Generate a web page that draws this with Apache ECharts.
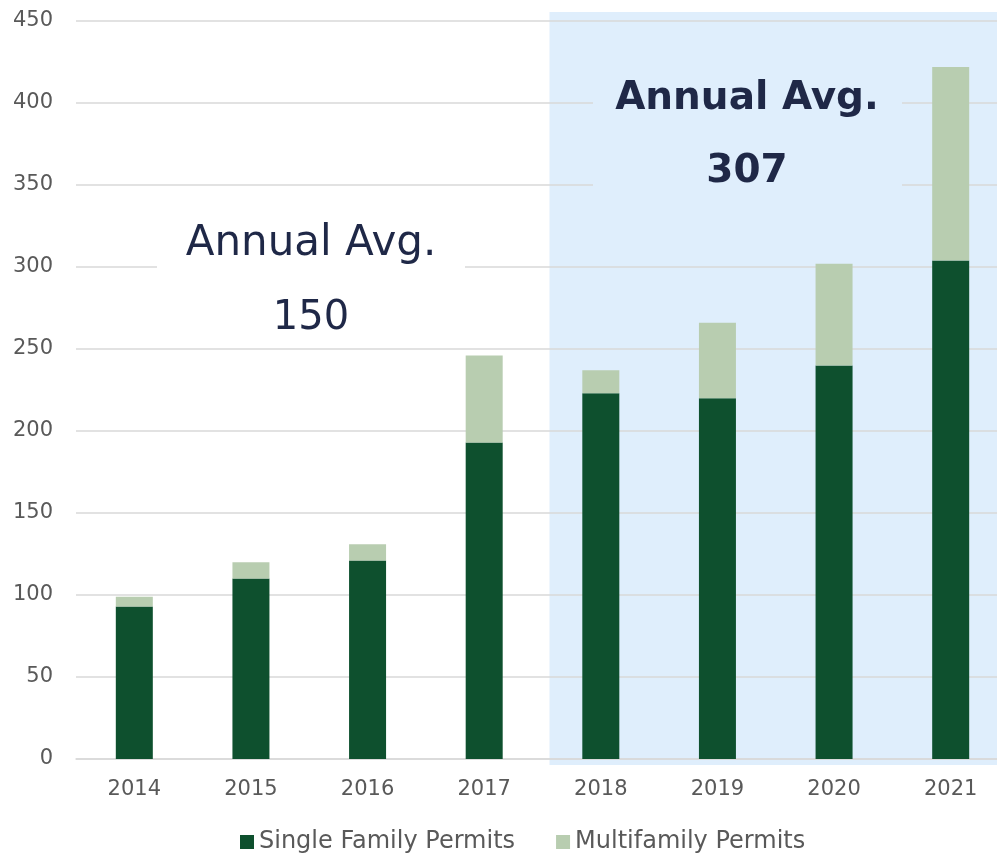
<!DOCTYPE html>
<html>
<head>
<meta charset="utf-8">
<script src="https://cdn.jsdelivr.net/npm/echarts@6/dist/echarts.min.js"></script>
<style>
  html, body { margin: 0; padding: 0; background: #ffffff; }
  #chart { width: 997px; height: 854px; }
</style>
</head>
<body>
<div id="chart"></div>
<script>
// Building permits by year
const years = ['2014', '2015', '2016', '2017', '2018', '2019', '2020', '2021'];
const singleFamily = [93, 110, 121, 193, 223, 220, 240, 304];
const multiFamily = [6, 10, 10, 53, 14, 46, 62, 118];
const yTicks = { min: 0, max: 450, interval: 50 };

const FONT = 'DejaVu Sans';
const NAVY = '#1f2847';
const SHADE = '#dfeefc';

const chart = echarts.init(document.getElementById('chart'), null, { renderer: 'canvas' });

const option = {
  animation: false,
  backgroundColor: '#ffffff',
  textStyle: { fontFamily: FONT },
  // plot area runs a little past the right edge of the canvas
  grid: {
    left: 76, width: 933, top: 21, bottom: 95,
    containLabel: false, outerBoundsMode: 'none'
  },
  legend: {
    top: 825,
    left: 235,
    itemWidth: 14,
    itemHeight: 14,
    itemGap: 41,
    icon: 'rect',
    textStyle: { fontFamily: FONT, fontSize: 24, color: '#595959' },
    data: ['Single Family Permits', 'Multifamily Permits']
  },
  xAxis: {
    type: 'category',
    data: years,
    axisTick: { show: false },
    axisLine: { lineStyle: { color: '#d9d9d9', width: 1.5 } },
    axisLabel: { fontFamily: FONT, fontSize: 21, color: '#595959', margin: 20 }
  },
  yAxis: {
    type: 'value',
    min: yTicks.min,
    max: yTicks.max,
    interval: yTicks.interval,
    axisLine: { show: false },
    axisTick: { show: false },
    splitLine: { lineStyle: { color: '#d9d9d9', width: 1.5 } },
    axisLabel: { fontFamily: FONT, fontSize: 21, color: '#595959', margin: 23 }
  },
  series: [
    {
      name: 'Single Family Permits',
      type: 'bar',
      stack: 'permits',
      barWidth: 37,
      itemStyle: { color: '#0e502e' },
      data: singleFamily
    },
    {
      name: 'Multifamily Permits',
      type: 'bar',
      stack: 'permits',
      barWidth: 37,
      itemStyle: { color: '#b8cdb0' },
      data: multiFamily
    }
  ]
};

chart.setOption(option);

// Shaded band behind the 2018-2021 bars, with the two period averages
const x2017 = chart.convertToPixel({ xAxisIndex: 0 }, '2017');
const x2018 = chart.convertToPixel({ xAxisIndex: 0 }, '2018');
const bandLeft = x2017 + (x2018 - x2017) * 0.56;

chart.setOption({
  graphic: [
    {
      type: 'rect',
      z: -10,
      silent: true,
      shape: { x: bandLeft, y: 12, width: 997 - bandLeft, height: 753 },
      style: { fill: SHADE }
    },
    {
      type: 'rect',
      z: 10,
      silent: true,
      shape: { x: 157, y: 212, width: 308, height: 70 },
      style: { fill: '#ffffff' }
    },
    {
      type: 'text',
      z: 11,
      silent: true,
      style: {
        x: 311, y: 244, text: 'Annual Avg.', align: 'center', verticalAlign: 'middle',
        fill: NAVY, font: '42px "DejaVu Sans"'
      }
    },
    {
      type: 'text',
      z: 11,
      silent: true,
      style: {
        x: 311, y: 319, text: '150', align: 'center', verticalAlign: 'middle',
        fill: NAVY, font: '40px "DejaVu Sans"'
      }
    },
    {
      type: 'rect',
      z: 10,
      silent: true,
      shape: { x: 593, y: 66, width: 309, height: 130 },
      style: { fill: SHADE }
    },
    {
      type: 'text',
      z: 11,
      silent: true,
      style: {
        x: 747, y: 99, text: 'Annual Avg.', align: 'center', verticalAlign: 'middle',
        fill: NAVY, font: 'bold 39px "DejaVu Sans"'
      }
    },
    {
      type: 'text',
      z: 11,
      silent: true,
      style: {
        x: 747, y: 172, text: '307', align: 'center', verticalAlign: 'middle',
        fill: NAVY, font: 'bold 39px "DejaVu Sans"'
      }
    }
  ]
});
</script>
</body>
</html>
